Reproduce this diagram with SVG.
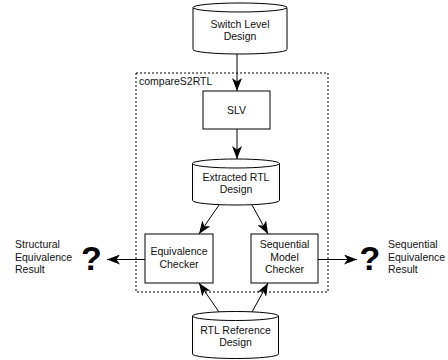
<svg xmlns="http://www.w3.org/2000/svg" width="448" height="360" viewBox="0 0 448 360">
<defs>
<style>
.shape{fill:#fff;stroke:#000;stroke-width:1}
.edge{fill:none;stroke:#000;stroke-width:1}
.lbl{font-family:"Liberation Sans",Arial,sans-serif;font-size:10.5px;fill:#111}
.c{text-anchor:middle}
.q{font-family:"Liberation Sans",Arial,sans-serif;font-size:34px;font-weight:bold;fill:#000;text-anchor:middle}
</style>
<marker id="arr" viewBox="0 0 13 10" refX="13" refY="5" markerWidth="13" markerHeight="10" markerUnits="userSpaceOnUse" orient="auto">
<path d="M0,0 L13,5 L0,10 L3.5,5 Z" fill="#000"/>
</marker>
</defs>
<rect width="448" height="360" fill="#fff"/>
<g id="compareS2RTL">
<rect x="136" y="73" width="192" height="219" fill="none" stroke="#000" stroke-width="1" stroke-dasharray="2,2"/>
<text class="lbl" x="139" y="85">compareS2RTL</text>
</g>
<g id="connectors">
<line class="edge" x1="237" y1="54" x2="237" y2="91" marker-end="url(#arr)"/>
<line class="edge" x1="237" y1="129" x2="237" y2="159" marker-end="url(#arr)"/>
<line class="edge" x1="219" y1="205" x2="199" y2="234" marker-end="url(#arr)"/>
<line class="edge" x1="252" y1="205" x2="268" y2="234" marker-end="url(#arr)"/>
<line class="edge" x1="219" y1="312" x2="199" y2="283" marker-end="url(#arr)"/>
<line class="edge" x1="252" y1="312" x2="268" y2="283" marker-end="url(#arr)"/>
<line class="edge" x1="145" y1="259.5" x2="107" y2="259.5" marker-end="url(#arr)"/>
<line class="edge" x1="318" y1="259.5" x2="357" y2="259.5" marker-end="url(#arr)"/>
</g>
<g id="switch-level-design">
<path class="shape" d="M193,7.5 A47,4.5 0 0 1 287,7.5 L287,49.5 A47,4.5 0 0 1 193,49.5 Z"/>
<path class="edge" d="M193,7.5 A47,4.5 0 0 0 287,7.5"/>
<text class="lbl c" x="240" y="28">Switch Level</text>
<text class="lbl c" x="240" y="40">Design</text>
</g>
<g id="slv">
<rect class="shape" x="203" y="91" width="67" height="38"/>
<text class="lbl c" x="236.5" y="113.5">SLV</text>
</g>
<g id="extracted-rtl-design">
<path class="shape" d="M192.5,163.5 A43.5,4.5 0 0 1 279.5,163.5 L279.5,200.5 A43.5,4.5 0 0 1 192.5,200.5 Z"/>
<path class="edge" d="M192.5,163.5 A43.5,4.5 0 0 0 279.5,163.5"/>
<text class="lbl c" x="236" y="181">Extracted RTL</text>
<text class="lbl c" x="236" y="193">Design</text>
</g>
<g id="equivalence-checker">
<rect class="shape" x="145" y="234" width="68" height="49"/>
<text class="lbl c" x="179" y="255">Equivalence</text>
<text class="lbl c" x="179" y="267.5">Checker</text>
</g>
<g id="sequential-model-checker">
<rect class="shape" x="251" y="234" width="67" height="49"/>
<text class="lbl c" x="284.5" y="248">Sequential</text>
<text class="lbl c" x="284.5" y="260.5">Model</text>
<text class="lbl c" x="284.5" y="273">Checker</text>
</g>
<g id="rtl-reference-design">
<path class="shape" d="M192.5,316 A43,4.5 0 0 1 278.5,316 L278.5,354 A43,4.5 0 0 1 192.5,354 Z"/>
<path class="edge" d="M192.5,316 A43,4.5 0 0 0 278.5,316"/>
<text class="lbl c" x="235.5" y="333.5">RTL Reference</text>
<text class="lbl c" x="235.5" y="345.5">Design</text>
</g>
<g id="structural-result">
<text class="q" x="91.5" y="270">?</text>
<text class="lbl" x="15" y="248">Structural</text>
<text class="lbl" x="15" y="260.5">Equivalence</text>
<text class="lbl" x="15" y="273">Result</text>
</g>
<g id="sequential-result">
<text class="q" x="370" y="270">?</text>
<text class="lbl" x="388" y="248">Sequential</text>
<text class="lbl" x="388" y="260.5">Equivalence</text>
<text class="lbl" x="388" y="273">Result</text>
</g>
</svg>
